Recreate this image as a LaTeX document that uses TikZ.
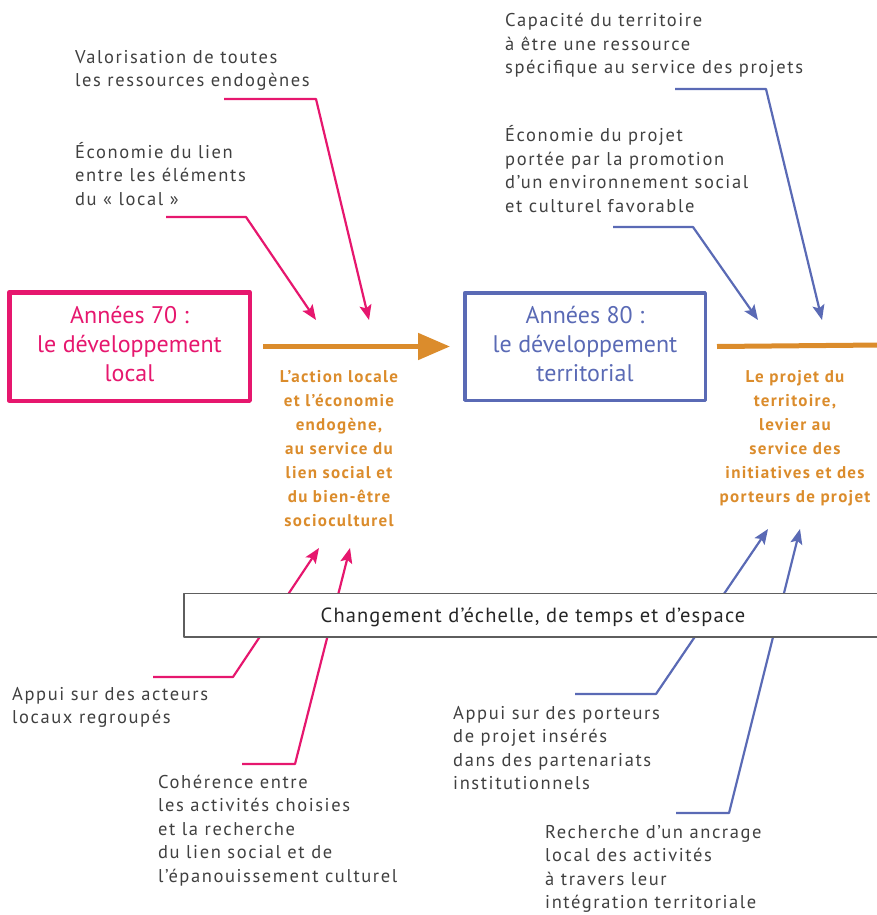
\documentclass[tikz,border=0pt]{standalone}
\usepackage{fontspec}
\setmainfont{PT Sans}
\newfontfamily\grisfont{PT Sans}[LetterSpace=8.6]
\newfontfamily\ocrefont{PT Sans}[LetterSpace=7.6]
\newfontfamily\chgfont{PT Sans}[LetterSpace=5.5]
\usetikzlibrary{arrows.meta}
\definecolor{rose}{HTML}{E6176E}
\definecolor{bleu}{HTML}{5A6AB5}
\definecolor{ocre}{HTML}{DB8C2C}
\definecolor{gris}{HTML}{404040}
\definecolor{cadre}{HTML}{5E5E5E}
\begin{document}
\begin{tikzpicture}[x=1pt,y=-1pt,line join=round,
	lbl/.style={anchor=base west,align=left,inner sep=0,text=gris,font=\grisfont\fontsize{18.5}{23.5}\selectfont},
	titre/.style={anchor=base,align=center,inner sep=0,font=\fontsize{24}{29}\selectfont},
	ocretxt/.style={anchor=base,align=center,inner sep=0,text=ocre,font=\ocrefont\bfseries\fontsize{17}{24}\selectfont},
	boite/.style={draw,inner sep=0,minimum width=240.5pt},
	rosefl/.style={rose,line width=2.2pt,-{Stealth[length=15pt,width=12pt,inset=3pt]}},
	bleufl/.style={bleu,line width=2.2pt,-{Stealth[length=15pt,width=12pt,inset=3pt]}}]
	\useasboundingbox (0,0) rectangle (877,915);
	\node[boite,rose,line width=4.5pt,minimum height=108.5pt] (an70) at (129.5,346.5) {};
	\node[boite,bleu,line width=3.5pt,minimum height=107.5pt] (an80) at (585,346.5) {};
	\node[titre,text=rose] (t70) at (129.5,381) {Années 70 :\\le développement\\local};
	\node[titre,text=bleu] (t80) at (585,381) {Années 80 :\\le développement\\territorial};
	\coordinate (bord) at (880,345);
	\draw[ocre,line width=5pt,-{Triangle[length=32pt,width=26pt]}] ([xshift=11pt]an70.east)--([xshift=-13pt]an80.west);
	\draw[ocre,line width=5pt] ([xshift=10pt]an80.east)--(bord);
	\node[ocretxt] (act) at (339,526) {L’action locale\\et l’économie\\endogène,\\au service du\\lien social et\\du bien-être\\socioculturel};
	\node[ocretxt] (proj) at (795,502) {Le projet du\\territoire,\\levier au\\service des\\initiatives et des\\porteurs de projet};
	\node[lbl] (val) at (75,87) {Valorisation de toutes\\les ressources endogènes};
	\node[lbl] (lien) at (75,205) {Économie du lien\\entre les éléments\\du «~local~»};
	\node[lbl] (capa) at (505,74) {Capacité du territoire\\à être une ressource\\spécifique au service des projets};
	\node[lbl] (ecop) at (505,212) {Économie du projet\\portée par la promotion\\d’un environnement social\\et culturel favorable};
	\node[lbl] (acteurs) at (12,723.5) {Appui sur des acteurs\\locaux regroupés};
	\node[lbl] (coh) at (158,882) {Cohérence entre\\les activités choisies\\et la recherche\\du lien social et de\\l’épanouissement culturel};
	\node[lbl] (porteurs) at (453,789.5) {Appui sur des porteurs\\de projet insérés\\dans des partenariats\\institutionnels};
	\node[lbl] (ancr) at (545,908.5) {Recherche d’un ancrage\\local des activités\\à travers leur\\intégration territoriale};
	\coordinate (val-s) at (224,99); \coordinate (val-k) at (316,99); \coordinate (val-t) at (369,320);
	\coordinate (lien-s) at (166,217); \coordinate (lien-k) at (246,217); \coordinate (lien-t) at (316,320);
	\coordinate (capa-s) at (675,89); \coordinate (capa-k) at (766,89); \coordinate (capa-t) at (822,320);
	\coordinate (ecop-s) at (613,227); \coordinate (ecop-k) at (693,227); \coordinate (ecop-t) at (758,320);
	\coordinate (acteurs-s) at (153,677); \coordinate (acteurs-k) at (233,677); \coordinate (acteurs-t) at (319,548);
	\coordinate (coh-s) at (242,764); \coordinate (coh-k) at (295,764); \coordinate (coh-t) at (350,548);
	\coordinate (porteurs-s) at (575,694); \coordinate (porteurs-k) at (656,694); \coordinate (porteurs-t) at (768,529);
	\coordinate (ancr-s) at (676,813); \coordinate (ancr-k) at (729,813); \coordinate (ancr-t) at (800,529);
	\foreach \n in {val,lien,acteurs,coh}
	\draw[rosefl] (\n-s)--(\n-k)--(\n-t);
	\foreach \n in {capa,ecop,porteurs,ancr}
	\draw[bleufl] (\n-s)--(\n-k)--(\n-t);
	\node[draw=cadre,line width=1.5pt,fill=white,minimum width=696pt,minimum height=43.5pt,inner sep=0] (chg) at (532,615) {};
	\node[anchor=base,inner sep=0,text=black!85,font=\chgfont\fontsize{20.5}{24}\selectfont] (chgt) at (533,622.5) {Changement d’échelle, de temps et d’espace};
\end{tikzpicture}
\end{document}
